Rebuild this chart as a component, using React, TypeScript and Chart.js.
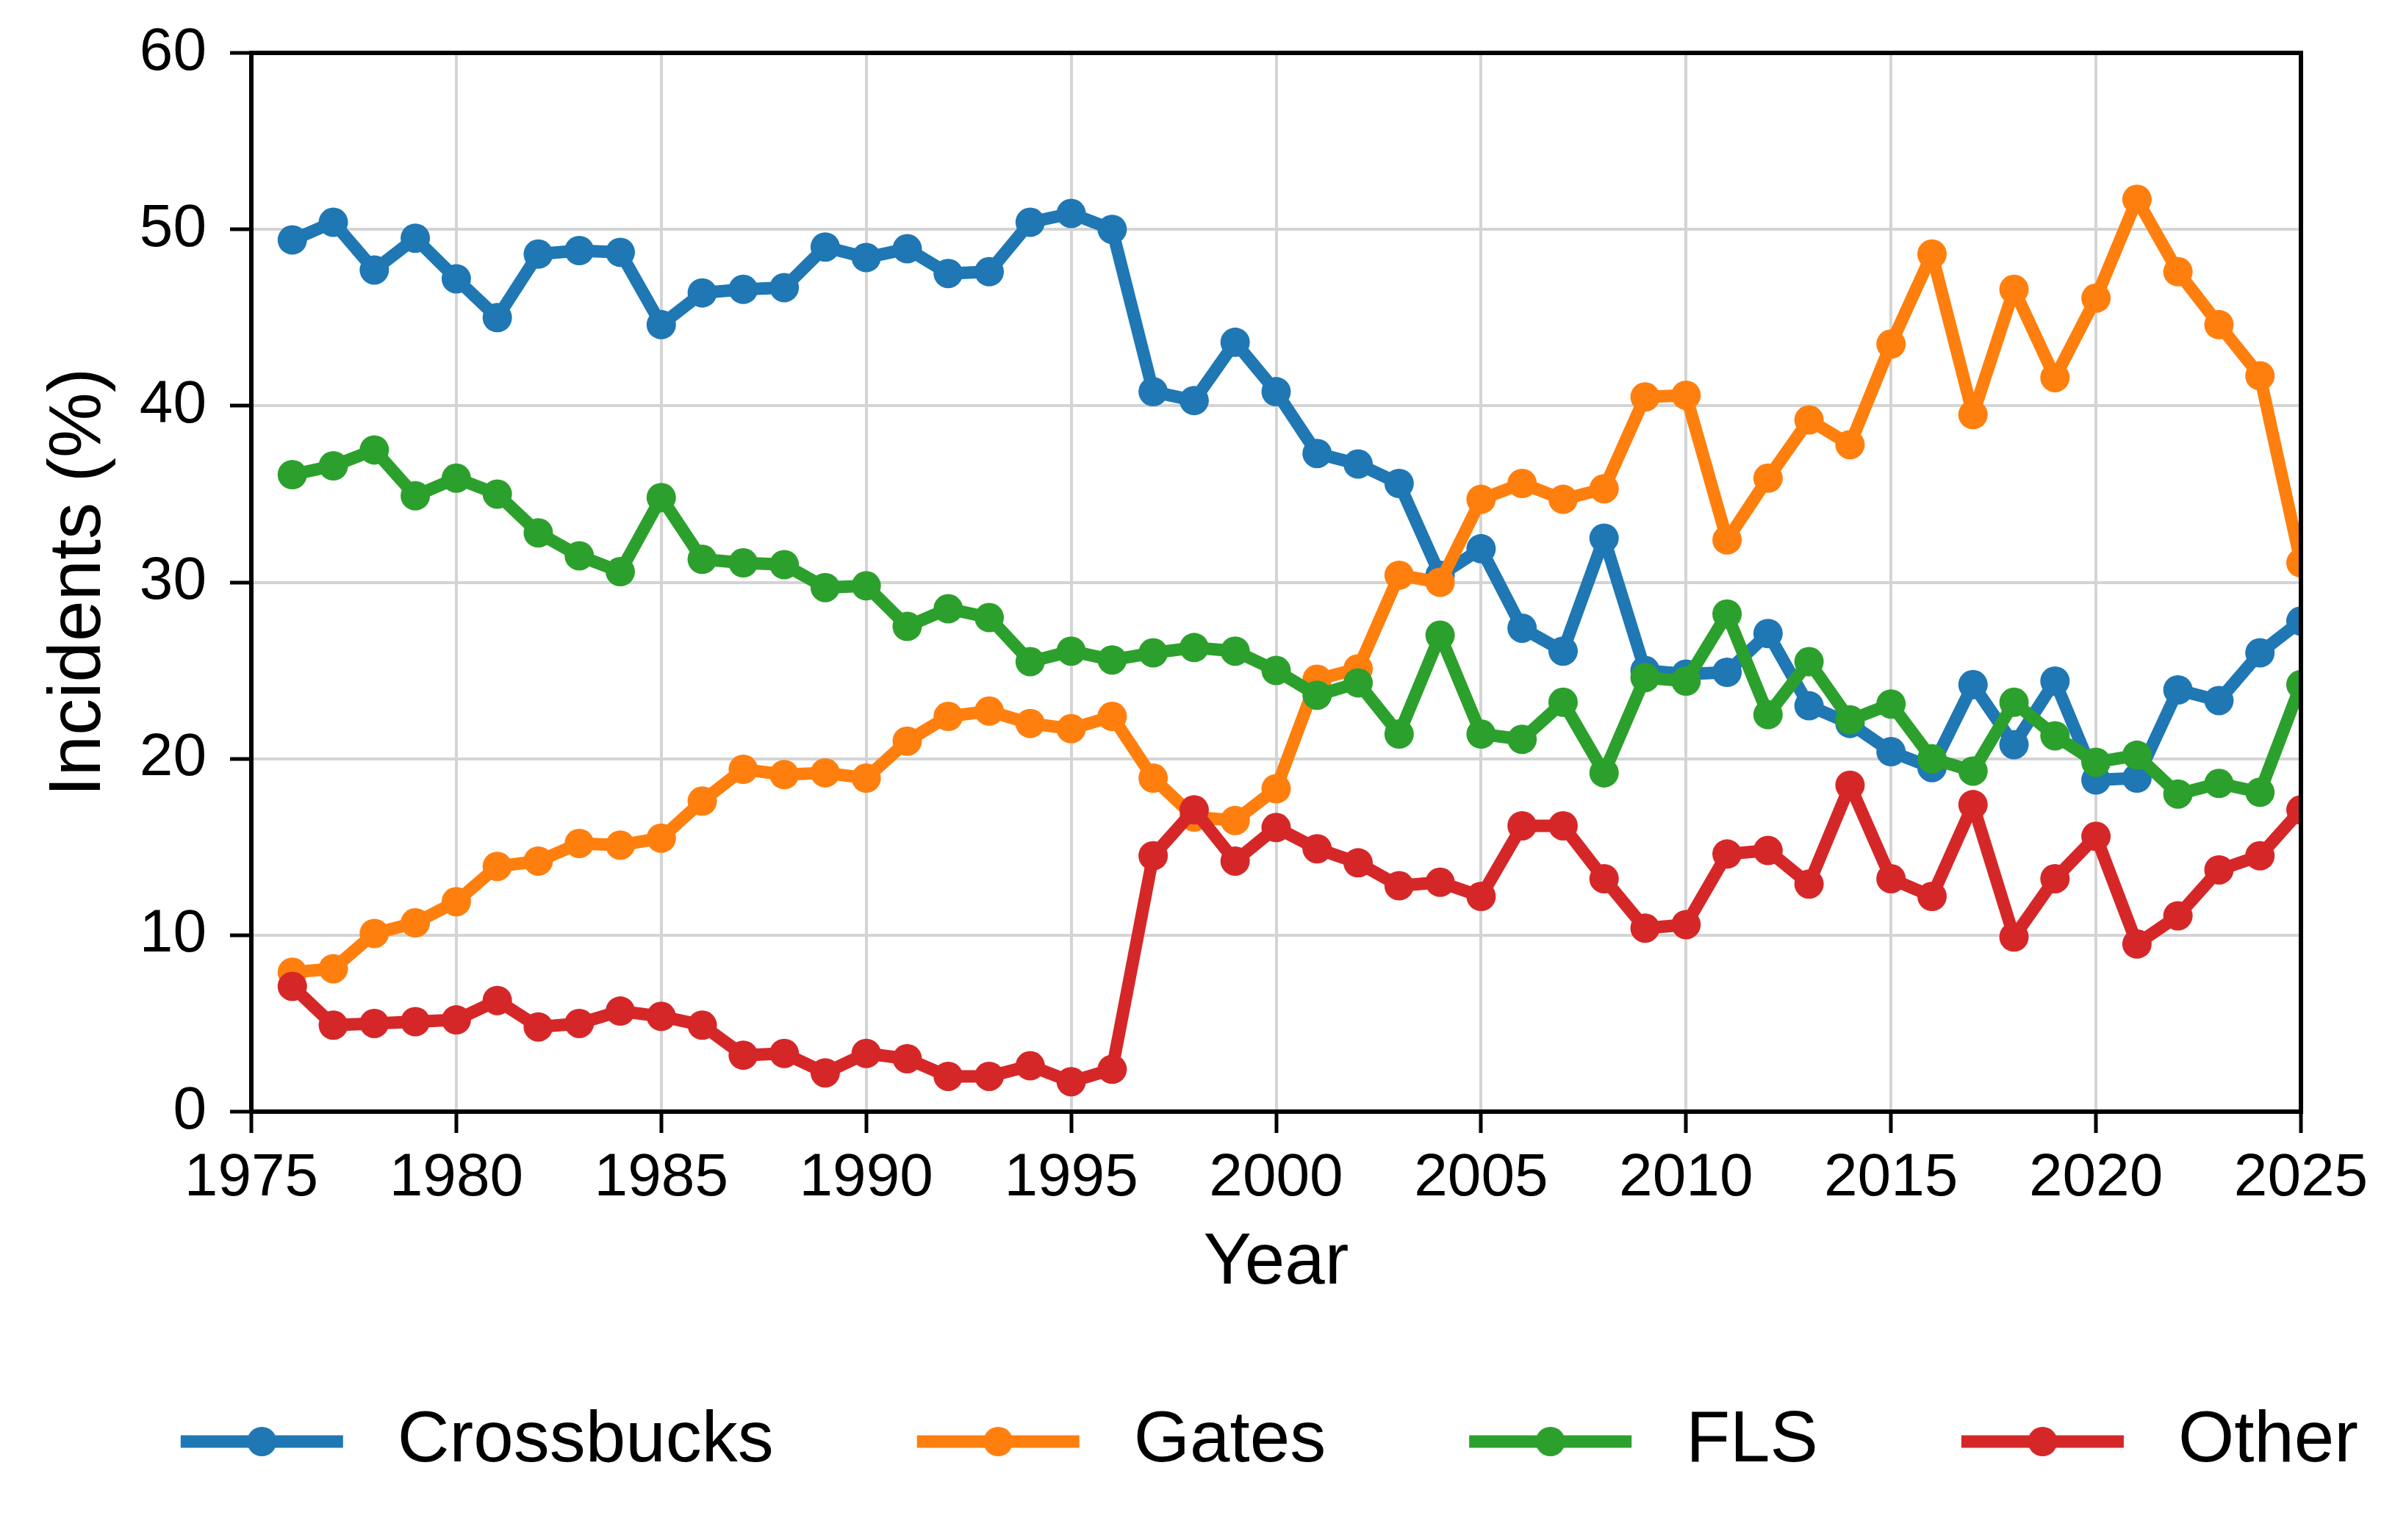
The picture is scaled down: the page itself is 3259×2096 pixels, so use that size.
import React, { useEffect, useRef } from 'react';
import { Chart, registerables } from 'chart.js';

Chart.register(...registerables);

const FONT = '"Liberation Sans", Arial, Helvetica, sans-serif';

const years = [
  1976, 1977, 1978, 1979, 1980, 1981, 1982, 1983, 1984, 1985,
  1986, 1987, 1988, 1989, 1990, 1991, 1992, 1993, 1994, 1995,
  1996, 1997, 1998, 1999, 2000, 2001, 2002, 2003, 2004, 2005,
  2006, 2007, 2008, 2009, 2010, 2011, 2012, 2013, 2014, 2015,
  2016, 2017, 2018, 2019, 2020, 2021, 2022, 2023, 2024, 2025,
];

const crossbucks = [
  49.4, 50.4, 47.7, 49.5, 47.2, 45.0, 48.6, 48.8, 48.7, 44.6,
  46.4, 46.6, 46.7, 49.0, 48.4, 48.9, 47.5, 47.6, 50.4, 50.9,
  50.0, 40.8, 40.3, 43.6, 40.8, 37.3, 36.7, 35.6, 30.4, 31.9,
  27.4, 26.1, 32.5, 25.0, 24.8, 24.9, 27.1, 23.0, 22.0, 20.4,
  19.5, 24.2, 20.8, 24.4, 18.8, 18.9, 23.9, 23.3, 26.0, 27.8,
];

const gates = [
  7.9, 8.1, 10.1, 10.7, 11.9, 13.9, 14.2, 15.2, 15.1, 15.5,
  17.6, 19.4, 19.1, 19.2, 18.9, 21.0, 22.4, 22.7, 22.0, 21.7,
  22.4, 18.9, 16.7, 16.5, 18.3, 24.5, 25.1, 30.4, 30.0, 34.7,
  35.6, 34.7, 35.3, 40.5, 40.6, 32.4, 35.9, 39.2, 37.8, 43.5,
  48.6, 39.5, 46.6, 41.6, 46.1, 51.7, 47.6, 44.6, 41.7, 31.1,
];

const fls = [
  36.1, 36.6, 37.5, 34.9, 35.9, 35.0, 32.8, 31.5, 30.6, 34.8,
  31.3, 31.1, 31.0, 29.7, 29.8, 27.5, 28.5, 28.0, 25.5, 26.1,
  25.6, 26.0, 26.3, 26.1, 25.0, 23.6, 24.3, 21.4, 27.0, 21.4,
  21.1, 23.2, 19.2, 24.6, 24.4, 28.2, 22.5, 25.5, 22.2, 23.1,
  20.0, 19.3, 23.2, 21.3, 19.8, 20.2, 18.0, 18.6, 18.1, 24.2,
];

const other = [
  7.1, 4.9, 5.0, 5.1, 5.2, 6.3, 4.8, 5.0, 5.7, 5.4,
  4.9, 3.2, 3.3, 2.2, 3.3, 3.0, 2.0, 2.0, 2.6, 1.7,
  2.4, 14.5, 17.1, 14.2, 16.1, 14.9, 14.1, 12.8, 13.0, 12.2,
  16.2, 16.2, 13.2, 10.4, 10.6, 14.6, 14.8, 12.9, 18.5, 13.2,
  12.2, 17.4, 9.9, 13.2, 15.6, 9.5, 11.1, 13.7, 14.5, 17.1,
];

const seriesNames = ['Crossbucks', 'Gates', 'FLS', 'Other'];
const seriesValues = [crossbucks, gates, fls, other];
const seriesColors = ['#1f77b4', '#ff7f0e', '#2ca02c', '#d62728'];

const xMin = 1975;
const xMax = 2025;
const xStep = 5;
const yMin = 0;
const yMax = 60;
const yStep = 10;

const xTitle = 'Year';
const yTitle = 'Incidents (%)';

const GRID = '#d4d4d4';
const LINE_W = 17;
const POINT_R = 20;

// legend swatch geometry
const SW_W = 391;
const SW_H = 50;
const SW_LINE_START = 145;
const SW_LINE_LEN = 221;

function makeSwatch(color: string): HTMLCanvasElement {
  const c = document.createElement('canvas');
  c.width = SW_W;
  c.height = SW_H;
  const g = c.getContext('2d')!;
  g.strokeStyle = color;
  g.lineWidth = LINE_W;
  g.lineCap = 'butt';
  g.beginPath();
  g.moveTo(SW_LINE_START, SW_H / 2);
  g.lineTo(SW_LINE_START + SW_LINE_LEN, SW_H / 2);
  g.stroke();
  g.fillStyle = color;
  g.beginPath();
  g.arc(SW_LINE_START + SW_LINE_LEN / 2, SW_H / 2, POINT_R, 0, Math.PI * 2);
  g.fill();
  return c;
}

const framePlugin = {
  id: 'axesFrame',
  afterDatasetsDraw(chart: any) {
    const { ctx, chartArea } = chart;
    const { left, top, right, bottom } = chartArea;
    ctx.save();
    ctx.strokeStyle = '#000';
    ctx.lineWidth = 6;
    ctx.strokeRect(left, top, right - left, bottom - top);
    ctx.restore();
  },
};

export default function App() {
  const ref = useRef<HTMLCanvasElement | null>(null);

  useEffect(() => {
    document.body.style.margin = '0';
    document.body.style.background = '#fff';
    const canvas = ref.current;
    if (!canvas) return;

    const swatches = seriesColors.map((c) => makeSwatch(c));

    const datasets = seriesNames.map((name, i) => ({
      label: name,
      data: years.map((yr, j) => ({ x: yr, y: seriesValues[i][j] })),
      borderColor: seriesColors[i],
      backgroundColor: seriesColors[i],
      pointBackgroundColor: seriesColors[i],
      pointBorderColor: seriesColors[i],
      borderWidth: LINE_W,
      pointRadius: POINT_R,
      pointHoverRadius: POINT_R,
      pointBorderWidth: 0,
      borderJoinStyle: 'round' as const,
      borderCapStyle: 'round' as const,
      tension: 0,
      fill: false,
      clip: 0,
      order: seriesNames.length - i,
    }));

    const chart = new Chart(canvas, {
      type: 'line',
      data: { datasets },
      plugins: [framePlugin],
      options: {
        animation: false,
        responsive: false,
        devicePixelRatio: 1,
        events: [],
        layout: { padding: { top: 72, right: 0, bottom: 75, left: 0 } },
        plugins: {
          tooltip: { enabled: false },
          legend: {
            position: 'bottom',
            align: 'end',
            fullSize: true,
            title: {
              display: true,
              text: '',
              font: { size: 10, lineHeight: 1, family: FONT },
              padding: { top: 70, bottom: 0 },
            },
            labels: {
              usePointStyle: true,
              pointStyleWidth: SW_W,
              padding: 50,
              color: '#000',
              font: { size: 98, family: FONT },
              generateLabels: (ch: any) =>
                ch.data.datasets.map((ds: any, i: number) => ({
                  text: ds.label,
                  fillStyle: ds.borderColor,
                  strokeStyle: ds.borderColor,
                  lineWidth: 0,
                  hidden: false,
                  pointStyle: swatches[i],
                  datasetIndex: i,
                  fontColor: '#000',
                })),
            },
          },
        },
        scales: {
          x: {
            type: 'linear',
            min: xMin,
            max: xMax,
            ticks: {
              stepSize: xStep,
              autoSkip: false,
              maxRotation: 0,
              padding: 13,
              color: '#000',
              font: { size: 82, family: FONT },
              callback: (v: any) => String(v),
            },
            grid: {
              color: GRID,
              lineWidth: 4,
              drawTicks: true,
              tickLength: 29,
              tickWidth: 5,
              tickColor: '#000',
            },
            border: { display: true, color: '#000', width: 6 },
            title: {
              display: true,
              text: xTitle,
              color: '#000',
              font: { size: 98, family: FONT },
              padding: { top: 0, bottom: 4 },
            },
            afterFit: (s: any) => {
              s.height = 270;
            },
          },
          y: {
            type: 'linear',
            position: 'left',
            min: yMin,
            max: yMax,
            ticks: {
              stepSize: yStep,
              padding: 32,
              color: '#000',
              font: { size: 82, family: FONT, lineHeight: 0.5 },
            },
            grid: {
              color: GRID,
              lineWidth: 4,
              drawTicks: true,
              tickLength: 29,
              tickWidth: 5,
              tickColor: '#000',
            },
            border: { display: true, color: '#000', width: 6 },
            title: {
              display: true,
              text: yTitle,
              color: '#000',
              font: { size: 100, family: FONT },
              padding: { top: 48, bottom: 0 },
            },
            afterFit: (s: any) => {
              s.width = 342;
            },
          },
          yRight: {
            type: 'linear',
            position: 'right',
            display: true,
            grid: { display: false, drawTicks: false },
            ticks: { display: false },
            border: { display: false },
            afterFit: (s: any) => {
              s.width = 128;
            },
          },
        },
      } as any,
    });

    return () => {
      chart.destroy();
    };
  }, []);

  return (
    <div style={{ width: 3259, height: 2096, background: '#fff' }}>
      <canvas ref={ref} width={3259} height={2096} style={{ display: 'block' }} />
    </div>
  );
}
